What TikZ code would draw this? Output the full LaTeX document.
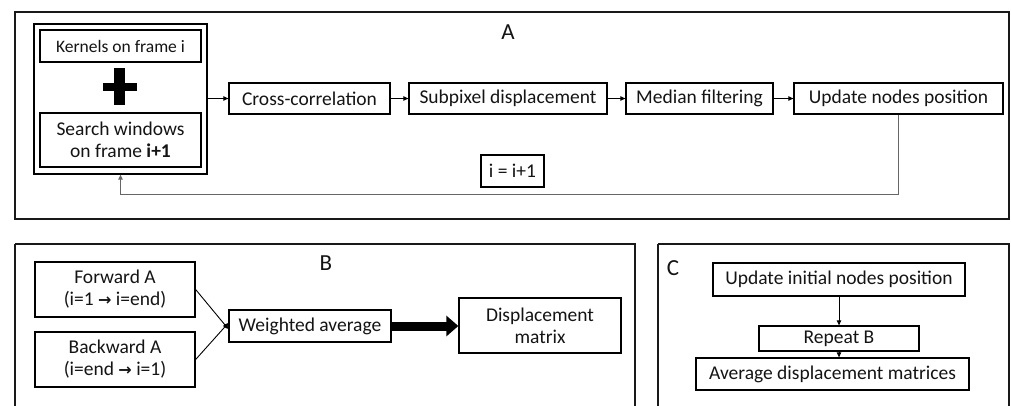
\documentclass[tikz,border=0pt]{standalone}
\usepackage{fontspec}
\setmainfont{Carlito}
\newfontfamily\symf{DejaVu Sans}
\usetikzlibrary{arrows.meta}
\begin{document}
\begin{tikzpicture}[x=1pt,y=-1pt,
  every node/.style={font=\fontsize{19.5}{22}\selectfont, text=black!92},
  bx/.style={draw=black, line width=1.3pt, inner sep=0pt, align=center, anchor=center},
  frame/.style={draw=black!90, line width=2pt},
  sarrow/.style={-{Triangle[length=5pt,width=4.5pt]}, line width=0.9pt, draw=black},
  lab/.style={font=\fontsize{23}{26}\selectfont}]
\useasboundingbox (0,0) rectangle (1011,405);
\clip (0,0) rectangle (1011,405);
\fill[white] (0,0) rectangle (1011,405);
% frames
\draw[frame] (15,12) rectangle (1009,219);
\draw[frame] (15,244) -- (635,244) -- (635,420) (15,244) -- (15,420);
\draw[frame] (658,244) -- (1009,244) -- (1009,420) (658,244) -- (658,420);
\node[lab] (la) at (508,32) {A};
\node[lab] (lb) at (326,263) {B};
\node[lab] (lc) at (673,268) {C};
% panel A
\node[bx, minimum width=173pt, minimum height=150pt] (kin) at (120.5,99) {};
\node[bx, minimum width=161pt, minimum height=32pt, font=\fontsize{17.5}{20}\selectfont] (ker) at (120.5,46) {Kernels on frame i};
\node[bx, minimum width=161pt, minimum height=54pt] (sw) at (120.5,140) {Search windows\\on frame \textbf{i+1}};
\fill[black] (114,68) rectangle (124.5,105);
\fill[black] (103,83) rectangle (137,91);
\node[bx, minimum width=161pt, minimum height=31pt] (cc) at (309.5,98.5) {Cross-correlation};
\node[bx, minimum width=198pt, minimum height=31pt] (sp) at (508,98.5) {Subpixel displacement};
\node[bx, minimum width=147pt, minimum height=31pt] (mf) at (699.5,98.5) {Median filtering};
\node[bx, minimum width=209pt, minimum height=31pt] (un) at (898.5,98.5) {Update nodes position};
\node[bx, minimum width=63pt, minimum height=32pt] (ii) at (512.5,171) {i = i+1};
\draw[sarrow] (kin.east |- cc.west) -- (cc.west);
\draw[sarrow] (cc) -- (sp);
\draw[sarrow] (sp) -- (mf);
\draw[sarrow] (mf) -- (un);
\coordinate (f1) at (898.5,194);
\coordinate (f2) at (120.5,194);
\draw[sarrow, draw=black!60, line width=1pt] (un.south) -- (f1) -- (f2) -- (kin.south);
% panel B
\node[bx, minimum width=160pt, minimum height=55pt] (fw) at (115,289.5) {Forward A\\(i=1 {\symf\bfseries\fontsize{16}{18}\selectfont →} i=end)};
\node[bx, minimum width=160pt, minimum height=55pt] (bw) at (115,359.5) {Backward A\\(i=end {\symf\bfseries\fontsize{16}{18}\selectfont →} i=1)};
\node[bx, minimum width=162pt, minimum height=32pt] (wa) at (310,326) {Weighted average};
\node[bx, minimum width=162pt, minimum height=55pt] (dm) at (540,325.5) {Displacement\\matrix};
\draw[sarrow] (fw.east) -- ([yshift=-3pt]wa.west);
\draw[sarrow] (bw.east) -- ([yshift=3pt]wa.west);
\draw[line width=9pt, -{Triangle[length=12pt,width=20pt]}] (wa.east) -- (wa.east -| dm.west);
% panel C
\node[bx, minimum width=252pt, minimum height=33pt] (ui) at (839,279.5) {Update initial nodes position};
\node[bx, minimum width=160pt, minimum height=25pt] (rb) at (839,338.5) {Repeat B};
\node[bx, minimum width=273pt, minimum height=32pt] (ad) at (832.5,374) {Average displacement matrices};
\draw[sarrow] (ui.south) -- (rb.north);
\draw[sarrow] (rb.south) -- (rb.south |- ad.north);
\end{tikzpicture}
\end{document}
